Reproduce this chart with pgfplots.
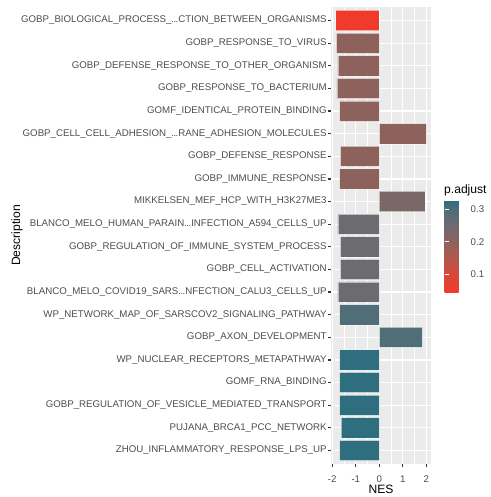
\documentclass[border=0pt]{standalone}
\usepackage{pgfplots}
\pgfplotsset{compat=1.18}
\usepackage{fontspec}
\setmainfont{Liberation Sans}

\definecolor{panelbg}{HTML}{EBEBEB}
\definecolor{gray20}{HTML}{333333}
\definecolor{gray30}{HTML}{4D4D4D}
% bar fills, from low to high p.adjust
\definecolor{cRed}{HTML}{F03B2C}
\definecolor{cBrown}{HTML}{8D625D}
\definecolor{cMauve}{HTML}{7A6866}
\definecolor{cGray}{HTML}{6C6B70}
\definecolor{cSlate}{HTML}{506E78}
\definecolor{cTeal}{HTML}{2E6E7E}

\pgfplotsset{
  colormap={padj}{
    rgb255(0pt)=(240,59,44);
    rgb255(57.5pt)=(214,72,58);
    rgb255(107.5pt)=(178,86,76);
    rgb255(157.5pt)=(141,98,93);
    rgb255(207.5pt)=(110,106,112);
    rgb255(257.5pt)=(78,110,121);
    rgb255(286.1pt)=(46,110,126)
  },
  gsbar/.style={xbar, bar width=0.9, bar shift=0pt, fill=#1,
    draw=white, draw opacity=0.55, line width=0.6bp},
}

% truncation mark inside long gene-set names
\newcommand{\tr}{.\kern-0.6bp.\kern-0.6bp.}
\newcommand{\ticksize}{\fontsize{9.7bp}{11bp}\selectfont}
\newcommand{\titlesize}{\fontsize{12.1bp}{14bp}\selectfont}

\begin{document}
\begin{tikzpicture}
\useasboundingbox (-331bp,-33bp) rectangle (160bp,464bp);
\begin{axis}[
  at={(0,0)}, anchor=south west,
  scale only axis, width=100bp, height=457bp,
  xmin=-2.055, xmax=2.195, ymin=0.4, ymax=20.6, y dir=reverse,
  axis background/.style={fill=panelbg},
  axis line style={draw=none},
  xtick={-2,-1,0,1,2}, xticklabels={-2,-1,0,1,2},
  minor xtick={-1.5,-0.5,0.5,1.5},
  ytick={1,2,3,4,5,6,7,8,9,10,11,12,13,14,15,16,17,18,19,20},
  yticklabels={
    GOBP\_BIOLOGICAL\_PROCESS\_\tr CTION\_BETWEEN\_ORGANISMS,
    GOBP\_RESPONSE\_TO\_VIRUS,
    GOBP\_DEFENSE\_RESPONSE\_TO\_OTHER\_ORGANISM,
    GOBP\_RESPONSE\_TO\_BACTERIUM,
    GOMF\_IDENTICAL\_PROTEIN\_BINDING,
    GOBP\_CELL\_CELL\_ADHESION\_\tr RANE\_ADHESION\_MOLECULES,
    GOBP\_DEFENSE\_RESPONSE,
    GOBP\_IMMUNE\_RESPONSE,
    MIKKELSEN\_MEF\_HCP\_WITH\_H3K27ME3,
    BLANCO\_MELO\_HUMAN\_PARAIN\tr INFECTION\_A594\_CELLS\_UP,
    GOBP\_REGULATION\_OF\_IMMUNE\_SYSTEM\_PROCESS,
    GOBP\_CELL\_ACTIVATION,
    BLANCO\_MELO\_COVID19\_SARS\tr NFECTION\_CALU3\_CELLS\_UP,
    WP\_NETWORK\_MAP\_OF\_SARSCOV2\_SIGNALING\_PATHWAY,
    GOBP\_AXON\_DEVELOPMENT,
    WP\_NUCLEAR\_RECEPTORS\_METAPATHWAY,
    GOMF\_RNA\_BINDING,
    GOBP\_REGULATION\_OF\_VESICLE\_MEDIATED\_TRANSPORT,
    PUJANA\_BRCA1\_PCC\_NETWORK,
    ZHOU\_INFLAMMATORY\_RESPONSE\_LPS\_UP},
  tick pos=left, tick align=outside,
  major tick length=3bp, minor tick length=0pt,
  tick style={draw=gray20, line width=1.17bp},
  grid=both,
  major grid style={draw=white, line width=1.17bp},
  minor grid style={draw=white, line width=0.59bp},
  ticklabel style={font=\ticksize, text=gray30},
  yticklabel style={anchor=east, inner sep=0pt, xshift=-1.2bp},
  xticklabel style={anchor=north, inner sep=0pt, yshift=-8.5bp},
  colormap name=padj,
  point meta min=0.0425, point meta max=0.3286,
  colorbar,
  colorbar style={
    at={(parent axis.north east)}, anchor=north west,
    xshift=5bp, yshift=-193bp,
    scale only axis, width=20bp, height=93bp,
    axis line style={draw=none},
    ytick={0.1,0.2,0.3}, yticklabels={0.1,0.2,0.3},
    ytick pos=both, yticklabel pos=right,
    tick align=inside, major tick length=4bp,
    ytick style={draw=white, line width=0.7bp},
    yticklabel style={font=\ticksize, text=gray30, anchor=west,
      inner sep=0pt, xshift=6bp},
  },
]
% NES of each gene set, grouped by fill colour
\addplot[gsbar=cRed]   coordinates {(-1.86,1)};
\addplot[gsbar=cBrown] coordinates {(-1.83,2) (-1.76,3) (-1.80,4) (-1.69,5)
                                    (2.00,6) (-1.66,7) (-1.69,8)};
\addplot[gsbar=cMauve] coordinates {(1.96,9)};
\addplot[gsbar=cGray]  coordinates {(-1.76,10) (-1.66,11) (-1.66,12) (-1.76,13)};
\addplot[gsbar=cSlate] coordinates {(-1.69,14) (1.83,15)};
\addplot[gsbar=cTeal]  coordinates {(-1.69,16) (-1.69,17) (-1.69,18)
                                    (-1.62,19) (-1.69,20)};
\end{axis}
\node[rotate=90, font=\titlesize] at (-314bp,228.5bp) {Description};
\node[font=\titlesize] at (50bp,-25bp) {NES};
\node[anchor=base west, inner sep=0pt, font=\titlesize] at (113bp,270.5bp) {p.adjust};
\end{tikzpicture}
\end{document}
